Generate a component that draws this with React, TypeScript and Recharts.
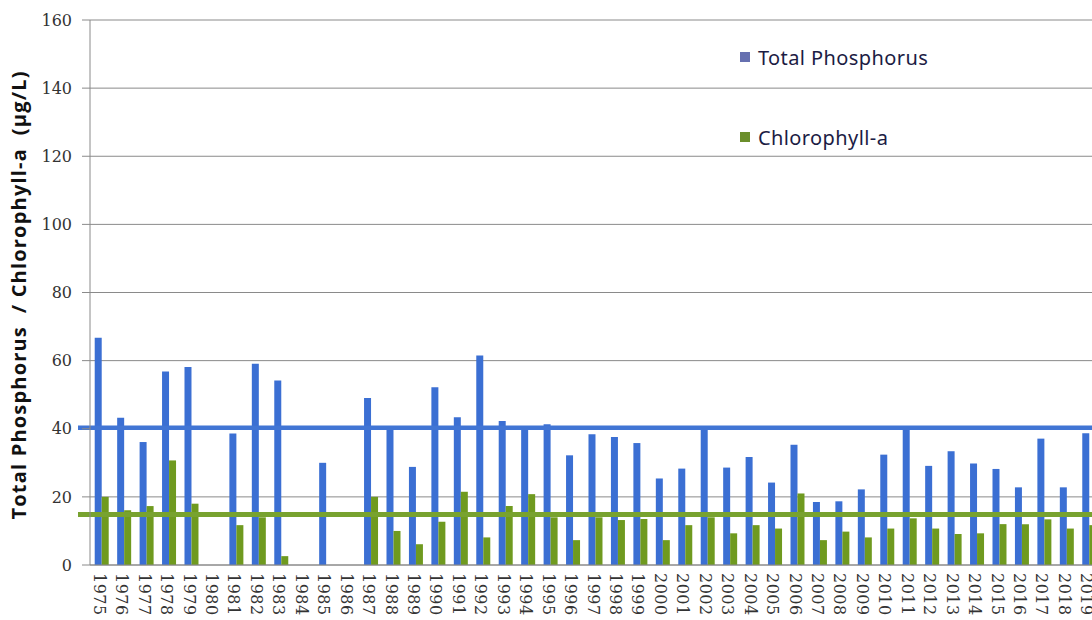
import { Bar, BarChart, CartesianGrid, Legend, ReferenceLine, XAxis, YAxis } from 'recharts';

const years = [
  '1975', '1976', '1977', '1978', '1979', '1980', '1981', '1982', '1983', '1984',
  '1985', '1986', '1987', '1988', '1989', '1990', '1991', '1992', '1993', '1994',
  '1995', '1996', '1997', '1998', '1999', '2000', '2001', '2002', '2003', '2004',
  '2005', '2006', '2007', '2008', '2009', '2010', '2011', '2012', '2013', '2014',
  '2015', '2016', '2017', '2018', '2019',
];

const totalPhosphorus = [
  66.7, 43.2, 36.1, 56.8, 58.1, null, 38.6, 59.1, 54.2, null,
  30.0, null, 49.0, 40.7, 28.8, 52.2, 43.4, 61.5, 42.3, 40.7,
  41.3, 32.2, 38.4, 37.6, 35.8, 25.4, 28.3, 40.0, 28.6, 31.7,
  24.2, 35.3, 18.5, 18.7, 22.2, 32.4, 39.7, 29.1, 33.4, 29.8,
  28.2, 22.8, 37.1, 22.8, 38.7,
];

const chlorophyll = [
  20.0, 16.1, 17.3, 30.7, 18.0, null, 11.7, 14.0, 2.6, null,
  null, null, 20.0, 10.0, 6.1, 12.7, 21.5, 8.1, 17.3, 20.8,
  14.0, 7.3, 14.0, 13.2, 13.5, 7.3, 11.7, 14.0, 9.3, 11.7,
  10.7, 21.0, 7.3, 9.8, 8.1, 10.7, 13.7, 10.7, 9.1, 9.3,
  12.0, 12.0, 13.4, 10.7, 11.7,
];

const yTicks = [0, 20, 40, 60, 80, 100, 120, 140, 160];

// horizontal reference levels drawn across the chart
const tpLevel = 40.3;
const chlLevel = 14.8;

const data = years.map((year, i) => ({
  year,
  tp: totalPhosphorus[i],
  chl: chlorophyll[i],
}));

const BLUE = '#3b6fd3';
const GREEN = '#6f9a1f';

const YearTick = (props: any) => {
  const { x, y, payload } = props;
  return (
    <text
      transform={`translate(${x - 2},${y}) rotate(90)`}
      textAnchor="start"
      dominantBaseline="central"
      fontFamily="DejaVu Serif"
      fontSize={16}
      letterSpacing={0.5}
      fill="#333"
    >
      {payload.value}
    </text>
  );
};

const extendedLine = (color: string, width: number) => (props: any) => (
  <line
    x1={props.x1 - 12}
    y1={props.y1}
    x2={props.x2}
    y2={props.y2}
    stroke={color}
    strokeWidth={width}
  />
);

const LegendBox = () => (
  <div style={{ fontFamily: 'Noto Sans', fontSize: 20, color: '#1c1c44', letterSpacing: 0.4 }}>
    <div style={{ display: 'flex', alignItems: 'center', height: 22 }}>
      <span style={{ width: 10, height: 10, background: '#6670b0', marginRight: 8 }} />
      Total Phosphorus
    </div>
    <div style={{ display: 'flex', alignItems: 'center', height: 22, marginTop: 58 }}>
      <span style={{ width: 10, height: 10, background: '#6b8e2b', marginRight: 8 }} />
      Chlorophyll-a
    </div>
  </div>
);

export default function App() {
  return (
    <div
      style={{
        position: 'absolute',
        left: 0,
        top: 0,
        width: 1092,
        height: 620,
        overflow: 'hidden',
        background: '#fff',
      }}
    >
      <BarChart
        width={1110}
        height={620}
        data={data}
        margin={{ top: 20, right: 10, left: 0, bottom: 0 }}
        barCategoryGap="21%"
        barGap={0}
      >
        <CartesianGrid vertical={false} stroke="#8a8a8a" strokeWidth={1} />
        <XAxis
          dataKey="year"
          height={55}
          interval={0}
          tick={<YearTick />}
          tickLine={false}
          axisLine={{ stroke: '#8a8a8a' }}
        />
        <YAxis
          width={90}
          domain={[0, 160]}
          ticks={yTicks}
          interval={0}
          tickSize={8}
          tickMargin={10}
          axisLine={{ stroke: '#8a8a8a' }}
          tickLine={{ stroke: '#8a8a8a' }}
          tick={{ fontFamily: 'DejaVu Serif', fontSize: 16, fill: '#333' }}
          label={{
            content: () => (
              <text
                x={18}
                y={295}
                transform="rotate(-90 18 295)"
                textAnchor="middle"
                dominantBaseline="central"
                fontFamily="Open Sans"
                fontWeight="bold"
                fontSize={20}
                letterSpacing={1.2}
                style={{ whiteSpace: 'pre' }}
                fill="#111"
              >
                Total Phosphorus  / Chlorophyll-a  (µg/L)
              </text>
            ),
          }}
        />
        <Legend
          content={<LegendBox />}
          layout="vertical"
          align="center"
          verticalAlign="middle"
          wrapperStyle={{ position: 'absolute', left: 740, top: 46, width: 280 }}
        />
        <Bar dataKey="tp" name="Total Phosphorus" fill={BLUE} isAnimationActive={false} />
        <Bar dataKey="chl" name="Chlorophyll-a" fill={GREEN} isAnimationActive={false} />
        <ReferenceLine y={tpLevel} stroke="#4175d4" strokeWidth={4.5} shape={extendedLine('#4175d4', 4.5)} />
        <ReferenceLine y={chlLevel} stroke="#78a22f" strokeWidth={5} shape={extendedLine('#78a22f', 5)} />
      </BarChart>
    </div>
  );
}
